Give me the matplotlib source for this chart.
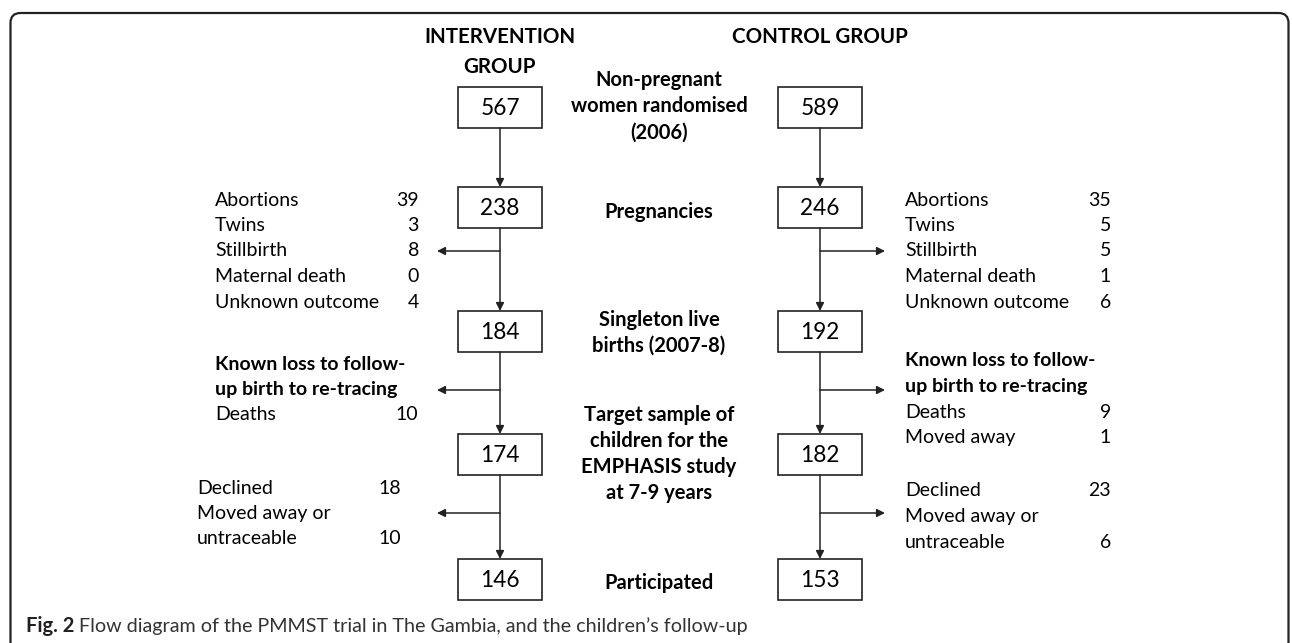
import matplotlib.pyplot as plt
from matplotlib.patches import Rectangle, FancyBboxPatch

plt.rcParams['font.family'] = ['Lato', 'DejaVu Sans']

# data
int_counts = [567, 238, 184, 174, 146]
ctl_counts = [589, 246, 192, 182, 153]
stage_labels = ["Non-pregnant\nwomen randomised\n(2006)", "Pregnancies",
                "Singleton live\nbirths (2007-8)",
                "Target sample of\nchildren for the\nEMPHASIS study\nat 7-9 years",
                "Participated"]

excl1_labels = ["Abortions", "Twins", "Stillbirth", "Maternal death", "Unknown outcome"]
excl1_int = [39, 3, 8, 0, 4]
excl1_ctl = [35, 5, 5, 1, 6]

excl2_head = "Known loss to follow-\nup birth to re-tracing"
excl2_int_labels = ["Deaths"]
excl2_int = [10]
excl2_ctl_labels = ["Deaths", "Moved away"]
excl2_ctl = [9, 1]

excl3_labels = ["Declined", "Moved away or\nuntraceable"]
excl3_int = [18, 10]
excl3_ctl = [23, 6]

caption_bold = "Fig. 2"
caption_text = " Flow diagram of the PMMST trial in The Gambia, and the children\u2019s follow-up"

fig = plt.figure(figsize=(12.92, 6.43), dpi=100)
ax = fig.add_axes([0, 0, 1, 1])
ax.set_xlim(0, 1292)
ax.set_ylim(643, 0)
ax.axis('off')

# outer frame (rounded top, open at bottom)
frame = FancyBboxPatch((10.5, 13), 1278, 700, boxstyle="round,pad=0,rounding_size=10",
                       fill=False, ec='#222222', lw=1.6, clip_on=True)
ax.add_patch(frame)

# column headers
ax.text(500, 37, "INTERVENTION", ha='center', va='center', fontsize=14.8, fontweight='bold')
ax.text(500, 67, "GROUP", ha='center', va='center', fontsize=14.8, fontweight='bold')
ax.text(820, 37, "CONTROL GROUP", ha='center', va='center', fontsize=14.8, fontweight='bold')

# boxes
box_tops = [87, 187, 311, 434, 559]
box_h = 41
box_w = 84
cx_int, cx_ctl = 500, 820
arrow_kw = dict(arrowstyle='-|>', color='#222222', lw=1.1, mutation_scale=12,
                shrinkA=0, shrinkB=0)
for cx, counts in [(cx_int, int_counts), (cx_ctl, ctl_counts)]:
    for i, n in enumerate(counts):
        ax.add_patch(Rectangle((cx - box_w / 2, box_tops[i]), box_w, box_h,
                               fill=False, ec='#222222', lw=1.2))
        ax.text(cx, box_tops[i] + box_h / 2 + 1, str(n), ha='center', va='center', fontsize=16.3)
        if i > 0:
            ax.annotate('', xy=(cx, box_tops[i]), xytext=(cx, box_tops[i - 1] + box_h),
                        arrowprops=arrow_kw)

# stage labels in the middle
stage_y = [106, 212, 333, 454, 583]
for lab, y in zip(stage_labels, stage_y):
    ax.text(659, y, lab, ha='center', va='center', fontsize=14.5, fontweight='bold',
            linespacing=1.39)

# side arrows
for y in [251, 390, 513]:
    ax.annotate('', xy=(437, y), xytext=(cx_int, y), arrowprops=arrow_kw)
    ax.annotate('', xy=(885, y), xytext=(cx_ctl, y), arrowprops=arrow_kw)


def block(x_lab, x_num, y0, labels, values, step=25.5):
    y = y0
    for lab, v in zip(labels, values):
        lines = lab.split('\n')
        for j, line in enumerate(lines):
            ax.text(x_lab, y, line, ha='left', va='center', fontsize=14)
            if j == len(lines) - 1:
                ax.text(x_num, y, str(v), ha='right', va='center', fontsize=14)
            y += step


def head(x_lab, y0, text, step=25.5):
    for j, line in enumerate(text.split('\n')):
        ax.text(x_lab, y0 + j * step, line, ha='left', va='center', fontsize=14,
                fontweight='bold')


# first exclusions
block(215, 419, 200, excl1_labels, excl1_int)
block(905, 1111, 200, excl1_labels, excl1_ctl)

# second exclusions
head(215, 364, excl2_head)
block(215, 418, 415, excl2_int_labels, excl2_int)
head(905, 361, excl2_head)
block(905, 1111, 412, excl2_ctl_labels, excl2_ctl)

# third exclusions
block(197, 401, 488, excl3_labels, excl3_int)
block(905, 1111, 491, excl3_labels, excl3_ctl)

# caption
t = ax.text(26, 626, caption_bold, ha='left', va='center', fontsize=14.5, fontweight='bold',
            color='#231f20')
fig.canvas.draw()
bb = t.get_window_extent(fig.canvas.get_renderer())
x_end = ax.transData.inverted().transform((bb.x1, bb.y0))[0]
ax.text(x_end, 626, caption_text, ha='left', va='center', fontsize=14.2, color='#333333')

fig.savefig('out.png', dpi=100)
